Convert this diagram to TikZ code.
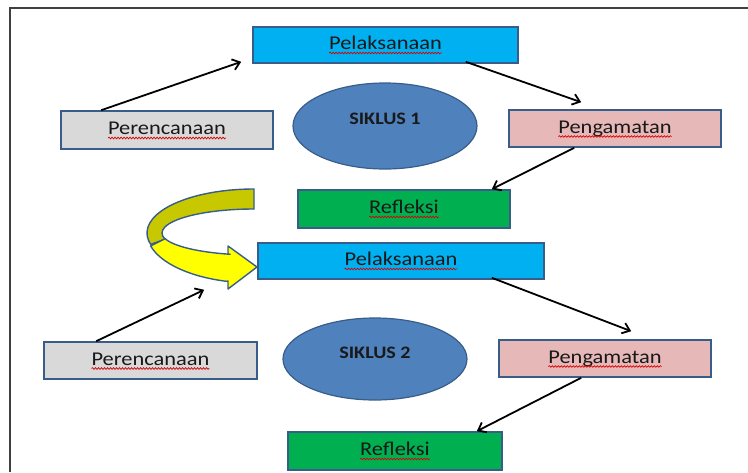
\documentclass[tikz,border=0pt]{standalone}
\usepackage{fontspec}
\setmainfont{Carlito}[FakeStretch=1.15]
\usetikzlibrary{arrows.meta,shapes.geometric,decorations.pathmorphing,calc}

\definecolor{edgeblue}{HTML}{385D8A}
\definecolor{pelfill}{HTML}{00B0F0}
\definecolor{perfill}{HTML}{D9D9D9}
\definecolor{pengfill}{HTML}{E6B9B8}
\definecolor{reffill}{HTML}{00B050}
\definecolor{cycfill}{HTML}{4F81BD}
\definecolor{turnback}{HTML}{C8C800}
\definecolor{turnfront}{HTML}{FFFF00}
\definecolor{framegray}{HTML}{404040}

\tikzset{
  stage/.style={draw=edgeblue, line width=1.6pt, minimum width=212pt, minimum height=37pt,
    inner sep=0pt, text=black!90, font=\fontsize{19.5}{22}\selectfont,
    text height=13pt, text depth=4pt},
  cyc/.style={ellipse, draw=edgeblue, line width=1.2pt, fill=cycfill, inner sep=0pt},
  cyctext/.style={inner sep=0pt, text=black!90, font=\bfseries\fontsize{17.5}{20}\selectfont},
  flow/.style={-{Straight Barb[length=7pt,width=11pt]}, line width=1.8pt},
  squig/.style={red!85!black, line width=0.7pt, decorate,
    decoration={snake, amplitude=0.8pt, segment length=3pt}},
}

\begin{document}
\begin{tikzpicture}[x=1pt,y=1pt]
    \useasboundingbox (0,0) rectangle (748,-472);
    \draw [framegray, line width=1.4pt] (10,-472) -- (10,-8) -- (748,-8);
    % siklus 1
    \node [stage, fill=pelfill, minimum width=265pt, minimum height=36pt] (p1) at (385.5,-45) {Pelaksanaan};
    \node [stage, fill=perfill, minimum height=38pt] (r1) at (167,-130) {Perencanaan};
    \node [stage, fill=pengfill] (g1) at (615,-128.5) {Pengamatan};
    \node [stage, fill=reffill, minimum height=38pt] (f1) at (404,-209) {Refleksi};
    \node [cyc, minimum width=184pt, minimum height=86pt] (e1) at (385,-126) {};
    \node [cyctext] (s1) at ([yshift=7pt]e1.center) {SIKLUS 1};
    % siklus 2
    \node [stage, fill=pelfill, minimum width=286pt, minimum height=36pt] (p2) at (401,-261) {Pelaksanaan};
    \node [stage, fill=perfill, minimum width=213pt] (r2) at (150.5,-360.5) {Perencanaan};
    \node [stage, fill=pengfill] (g2) at (605,-358.5) {Pengamatan};
    \node [stage, fill=reffill, minimum width=214pt, minimum height=38pt] (f2) at (395,-451) {Refleksi};
    \node [cyc, minimum width=184pt, minimum height=82pt] (e2) at (375,-359) {};
    \node [cyctext] (s2) at ([yshift=6pt]e2.center) {SIKLUS 2};
    % spelling marks
    \foreach \w in {p1,r1,g1,f1,p2,r2,g2,f2}
      \draw [squig] let \p1=(\w.text), \p2=(\w.center) in (\x1,\y1-3.5pt) -- (2*\x2-\x1,\y1-3.5pt);
    % arrows
    \draw [flow] ([xshift=41pt]r1.north west) -- ([shift={(-11pt,2pt)}]p1.south west);
    \draw [flow] ([shift={(-53pt,2pt)}]p1.south east) -- ([shift={(73pt,7pt)}]g1.north west);
    \draw [flow] ([xshift=66pt]g1.south west) -- ([xshift=-19pt]f1.north east);
    \draw [flow] ([xshift=53pt]r2.north west) -- ([shift={(-53pt,-10pt)}]p2.south west);
    \draw [flow] ([shift={(-53pt,2pt)}]p2.south east) -- ([shift={(133pt,8pt)}]g2.north west);
    \draw [flow] ([xshift=83pt]g2.south west) -- ([xshift=-26pt]f2.north east);
    % curved arrow to siklus 2
    \coordinate (turn) at (254,-233);
    \filldraw [fill=turnback, draw=edgeblue, line width=1.4pt]
      ($(turn)+(90:107pt and 44pt)$) arc [start angle=90, end angle=195, x radius=107pt, y radius=44pt]
      -- ($(turn)+(195:92pt and 24pt)$) arc [start angle=195, end angle=90, x radius=92pt, y radius=24pt] -- cycle;
    \filldraw [fill=turnfront, draw=edgeblue, line width=1.4pt, line join=round]
      ($(turn)+(195:107pt and 50pt)$) arc [start angle=195, end angle=255, x radius=107pt, y radius=50pt]
      -- (228,-281) -- (228,-289) -- (257,-267) -- (228,-246) -- (228,-254)
      -- ($(turn)+(255:92pt and 22pt)$) arc [start angle=255, end angle=195, x radius=92pt, y radius=22pt] -- cycle;
\end{tikzpicture}
\end{document}
